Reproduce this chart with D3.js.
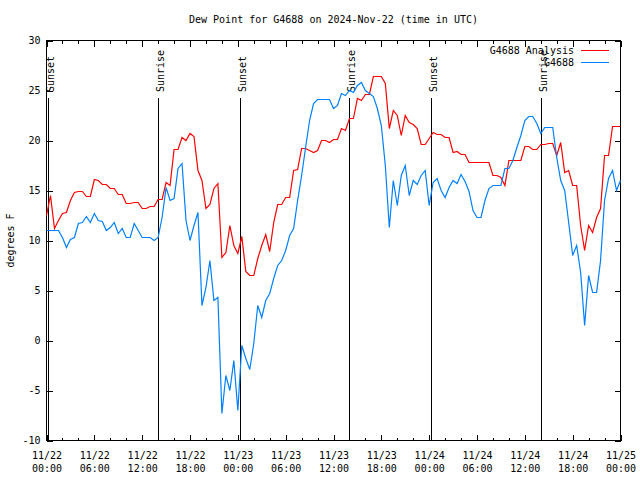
<!DOCTYPE html>
<html>
<head>
<meta charset="utf-8">
<script src="https://cdn.jsdelivr.net/npm/d3@7"></script>
<style>
  body { margin: 0; background: #fff; }
  svg { display: block; font-family: "DejaVu Sans Mono", "Liberation Mono", monospace; font-size: 10px; }
</style>
</head>
<body>
<div id="chart"></div>
<script>
// samples every 30 minutes starting 11/22 00:00 UTC
var startTime = "2024-11-22T00:00:00Z";
var stepMinutes = 30;

// G4688 Analysis (red)
var analysisValues = [
  12.5, 14.5, 11.2, 12.0, 12.7, 12.8, 14.0, 14.8, 14.9, 14.9, 14.4, 14.4, 16.1, 16.0, 15.6, 15.6,
  15.2, 15.2, 14.6, 14.6, 13.7, 13.7, 13.8, 13.8, 13.2, 13.2, 13.4, 13.4, 14.1,
  14.1, 15.8, 15.5, 19.1, 19.1, 20.3, 20.0, 20.7, 20.4, 17.0, 16.0, 13.2, 13.6, 15.2, 15.7,
  8.3, 8.8, 11.5, 9.5, 8.7, 10.4, 6.9, 6.5, 6.5, 8.2, 9.5, 10.6, 8.9, 11.8,
  13.6, 13.6, 14.3, 14.3, 17.0, 17.1, 19.2, 19.2, 19.0, 18.8, 19.0, 20.0, 20.0, 19.8, 20.1,
  20.1, 21.2, 21.0, 22.2, 22.2, 24.2, 24.0, 24.6, 24.6, 26.4, 26.4, 26.4, 25.7, 21.2,
  23.0, 22.5, 20.5, 22.5, 21.8, 21.6, 21.2, 19.6, 19.6, 20.2, 20.8, 20.6, 20.6, 20.3,
  20.3, 18.8, 18.9, 18.6, 18.6, 17.8, 17.8, 17.8, 17.8, 17.8, 17.8, 16.5, 16.5, 16.3,
  15.5, 18.0, 18.0, 18.0, 18.0, 19.4, 19.4, 19.1, 19.1, 19.6, 19.6, 19.7, 19.7, 18.5, 19.8,
  16.8, 17.0, 15.5, 15.5, 11.5, 9.0, 11.5, 10.8, 12.3, 13.2, 18.5, 18.5, 21.4, 21.4, 21.4
];

// G4688 station (blue)
var stationValues = [
  11.0, 11.0, 11.0, 11.0, 10.3, 9.3, 10.1, 10.3, 11.7, 11.8, 12.4, 11.8, 12.7, 12.0, 11.9, 11.0,
  11.3, 11.8, 10.7, 11.2, 10.3, 10.3, 11.7, 11.0, 10.3, 10.3, 10.3, 10.0, 10.3,
  12.3, 15.3, 14.0, 14.2, 17.2, 17.7, 12.0, 10.0, 11.5, 12.8, 3.5, 5.3, 8.0, 4.0, 4.3,
  -7.3, -3.5, -5.0, -2.0, -7.0, -0.5, -1.8, -2.9, -0.3, 3.5, 2.3, 4.0, 4.7, 6.2,
  7.5, 8.0, 9.0, 10.5, 11.2, 14.0, 16.5, 19.3, 22.0, 23.7, 24.1, 24.1, 24.1, 24.1, 23.2,
  23.5, 24.7, 24.5, 25.0, 24.8, 25.5, 25.8, 25.0, 24.7, 24.4, 23.2, 21.5, 17.5, 11.3,
  16.0, 13.5, 16.5, 17.5, 14.5, 16.0, 15.6, 16.5, 17.0, 13.5, 15.8, 16.2, 15.0, 14.3,
  15.3, 16.0, 15.7, 16.6, 15.9, 14.9, 13.0, 12.3, 12.3, 14.0, 15.2, 15.5, 15.5, 15.5,
  17.2, 17.2, 18.0, 19.3, 20.5, 22.0, 22.4, 22.4, 21.7, 20.7, 21.3, 21.3, 21.3, 18.3, 16.0,
  15.0, 11.8, 8.5, 9.5, 6.8, 1.5, 6.5, 4.8, 4.8, 8.0, 14.0, 16.2, 17.0, 15.0, 16.0
];

var sunTimes = ["2024-11-22T00:14:00Z", "2024-11-22T13:58:00Z", "2024-11-23T00:16:00Z",
                "2024-11-23T13:59:00Z", "2024-11-24T00:17:00Z", "2024-11-24T14:02:00Z"];
var sunLabels = ["Sunset", "Sunrise", "Sunset", "Sunrise", "Sunset", "Sunrise"];

var xTickTimes = ["2024-11-22T00:00:00Z", "2024-11-22T06:00:00Z", "2024-11-22T12:00:00Z",
                  "2024-11-22T18:00:00Z", "2024-11-23T00:00:00Z", "2024-11-23T06:00:00Z",
                  "2024-11-23T12:00:00Z", "2024-11-23T18:00:00Z", "2024-11-24T00:00:00Z",
                  "2024-11-24T06:00:00Z", "2024-11-24T12:00:00Z", "2024-11-24T18:00:00Z",
                  "2024-11-25T00:00:00Z"];
var yTicks = [-10, -5, 0, 5, 10, 15, 20, 25, 30];
var seriesNames = ["G4688 Analysis", "G4688"];

var title = "Dew Point for G4688 on 2024-Nov-22 (time in UTC)";
var yLabel = "degrees F";

//------------------------------- Setup --------------------------------
var W = 640, H = 480;
var plotLeft = 46.5, plotRight = 620.5, plotTop = 40.5, plotBottom = 440.5;

var svg = d3.select("#chart").append("svg")
  .attr("width", W)
  .attr("height", H);

var t0 = new Date(startTime);
function sampleTime(i) { return new Date(t0.getTime() + i * stepMinutes * 60000); }

var x = d3.scaleUtc()
  .domain([new Date(xTickTimes[0]), new Date(xTickTimes[xTickTimes.length - 1])])
  .range([plotLeft, plotRight]);

var y = d3.scaleLinear()
  .domain([yTicks[0], yTicks[yTicks.length - 1]])
  .range([plotBottom, plotTop]);

// Axes (ticks point inward on all four sides, like gnuplot)
var majorTicks = xTickTimes.map(function(s) { return new Date(s); });
var minorTicks = d3.utcHour.every(2).range(x.domain()[0], x.domain()[1]);

var fmtDate = d3.utcFormat("%m/%d"), fmtTime = d3.utcFormat("%H:%M");

var xBottom = svg.append("g")
  .attr("transform", "translate(0," + plotBottom + ")")
  .call(d3.axisBottom(x).tickValues(majorTicks).tickSizeInner(-6).tickSizeOuter(0).tickPadding(0));
xBottom.selectAll(".tick text").each(function(d) {
  var t = d3.select(this).attr("dy", null).attr("y", null).text(null);
  t.append("tspan").attr("x", 0).attr("y", 18).text(fmtDate(d));
  t.append("tspan").attr("x", 0).attr("y", 31).text(fmtTime(d));
});

svg.append("g")
  .attr("transform", "translate(0," + plotBottom + ")")
  .call(d3.axisBottom(x).tickValues(minorTicks).tickSizeInner(-3).tickSizeOuter(0).tickFormat(""));

svg.append("g")
  .attr("transform", "translate(0," + plotTop + ")")
  .call(d3.axisTop(x).tickValues(majorTicks).tickSizeInner(-6).tickSizeOuter(0).tickFormat(""));
svg.append("g")
  .attr("transform", "translate(0," + plotTop + ")")
  .call(d3.axisTop(x).tickValues(minorTicks).tickSizeInner(-3).tickSizeOuter(0).tickFormat(""));

svg.append("g")
  .attr("transform", "translate(" + plotLeft + ",0)")
  .call(d3.axisLeft(y).tickValues(yTicks).tickSizeInner(-6).tickSizeOuter(0).tickPadding(6)
    .tickFormat(function(d) { return d < 0 ? "-" + Math.abs(d) : d; }));

svg.append("g")
  .attr("transform", "translate(" + plotRight + ",0)")
  .call(d3.axisRight(y).tickValues(yTicks).tickSizeInner(-6).tickSizeOuter(0).tickFormat(""));

svg.selectAll(".domain").remove();
svg.selectAll(".tick line").attr("stroke", "#000").attr("shape-rendering", "crispEdges");
svg.selectAll(".tick text").attr("fill", "#000")
  .style("font-family", "'DejaVu Sans Mono', 'Liberation Mono', monospace").style("font-size", "10px");

// plot border
svg.append("rect")
  .attr("x", plotLeft).attr("y", plotTop)
  .attr("width", plotRight - plotLeft).attr("height", plotBottom - plotTop)
  .attr("fill", "none").attr("stroke", "#000")
  .attr("shape-rendering", "crispEdges");

// Sunrise / sunset markers
sunTimes.forEach(function(s, i) {
  var sx = Math.round(x(new Date(s))) + 0.5;
  svg.append("line")
    .attr("x1", sx).attr("x2", sx)
    .attr("y1", 98).attr("y2", plotBottom)
    .attr("stroke", "#000").attr("shape-rendering", "crispEdges");
  svg.append("text")
    .text(sunLabels[i])
    .attr("transform", "translate(" + (sx + 5) + ",92) rotate(-90)")
    .attr("text-anchor", "start");
});

// Data lines
var line = d3.line()
  .x(function(d) { return x(d.t); })
  .y(function(d) { return y(d.v); });

function toPoints(vals) {
  return vals.map(function(v, i) { return {t: sampleTime(i), v: v}; });
}

var seriesColors = ["#ff0000", "#0080ff"];
[analysisValues, stationValues].forEach(function(vals, i) {
  svg.append("path")
    .datum(toPoints(vals))
    .attr("d", line)
    .attr("fill", "none")
    .attr("stroke", seriesColors[i])
    .attr("stroke-width", 1.2);
});

// Legend
seriesNames.forEach(function(name, i) {
  var ly = 50.5 + i * 12;
  svg.append("text").text(name)
    .attr("x", 574).attr("y", ly + 3.5)
    .attr("text-anchor", "end");
  svg.append("line")
    .attr("x1", 581).attr("x2", 609)
    .attr("y1", ly).attr("y2", ly)
    .attr("stroke", seriesColors[i])
    .attr("shape-rendering", "crispEdges");
});

// Title and axis label
svg.append("text").text(title)
  .attr("x", (plotLeft + plotRight) / 2).attr("y", 23)
  .attr("text-anchor", "middle");

svg.append("text").text(yLabel)
  .attr("transform", "translate(14," + ((plotTop + plotBottom) / 2) + ") rotate(-90)")
  .attr("text-anchor", "middle");
</script>
</body>
</html>
